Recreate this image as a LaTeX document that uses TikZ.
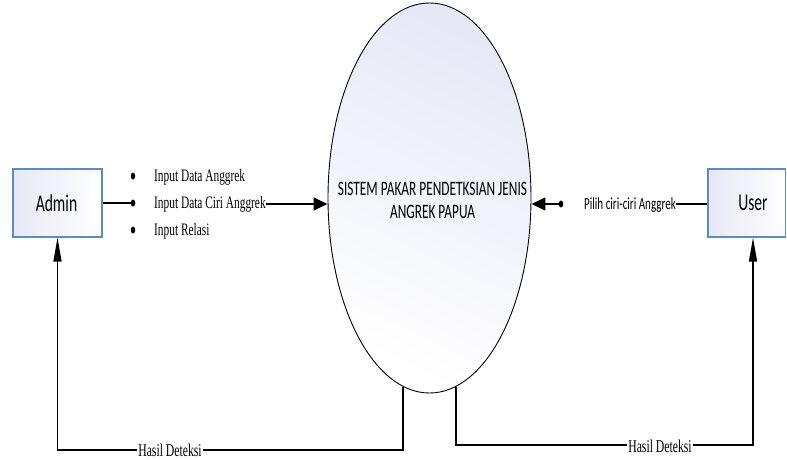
\documentclass[tikz,border=0pt]{standalone}
\usepackage{fontspec}
\setmainfont{Liberation Serif}[FakeStretch=0.65]
\newfontfamily\narrowsans{Carlito}[FakeStretch=0.65]
\usetikzlibrary{arrows.meta,shapes.geometric}
\definecolor{boxblue}{RGB}{91,141,196}
\definecolor{lav}{RGB}{230,232,246}
\tikzset{
  entity/.style={draw=boxblue, line width=1.2pt, left color=lav, right color=white,
    rectangle, inner sep=0pt, minimum height=68pt},
  process/.style={draw=black, line width=0.9pt, ellipse, inner sep=0pt,
    top color=lav, bottom color=white, shading angle=-25,
    minimum width=203pt, minimum height=390pt},
  processtext/.style={font=\narrowsans\fontsize{20.5}{23}\selectfont, align=center, inner sep=0pt},
  flow/.style={line width=1.4pt, draw=black},
  htip/.style={-{Triangle[length=14pt,width=13pt]}},
  vtip/.style={-{Triangle[length=24pt,width=8pt]}},
  flowlabel/.style={font=\fontsize{17.5}{20}\selectfont, inner sep=0pt},
  dot/.style={ellipse, fill=black, inner sep=0pt, minimum width=4.5pt, minimum height=7pt},
  boxtext/.style={font=\narrowsans\fontsize{24}{28}\selectfont, inner sep=0pt},
  outlabel/.style={font=\fontsize{18}{20}\selectfont, fill=white, inner sep=1pt},
}
\begin{document}
\begin{tikzpicture}[x=1pt, y=-1pt]
\useasboundingbox (0,0) rectangle (787,460);

% external entities
\node[entity, minimum width=89pt] (admin) at (57.5,203) {};
\node[boxtext] (admintxt) at (56.5,203) {Admin};
\node[entity, minimum width=77.5pt] (user) at (746.75,203) {};
\node[boxtext] (usertxt) at (753,203) {User};

% the process
\node[process] (sys) at (429.5,198) {};
\node[processtext] (systxt) at (432.5,200) {SISTEM PAKAR PENDETKSIAN JENIS\\[0pt]ANGREK PAPUA};

% admin inputs
\node[dot] (b1) at (133,176) {};
\node[dot] (b2) at (133,203) {};
\node[dot] (b3) at (133,230) {};
\node[flowlabel, anchor=west] (t1) at (154,177) {Input Data Anggrek};
\node[flowlabel, anchor=west] (t2) at (154,204) {Input Data Ciri Anggrek};
\node[flowlabel, anchor=west] (t3) at (154,231) {Input Relasi};
\draw[flow] (admin.east) -- (b2.center);
\draw[flow, htip] (t2.east) -- (t2.east -| sys.west);

% user input
\node[font=\narrowsans\fontsize{17}{20}\selectfont, inner sep=0pt, anchor=east] (pilih) at (676,205) {Pilih ciri-ciri Anggrek};
\node[dot] (ud) at (561,204) {};
\draw[flow] (user.west |- ud) -- (pilih.east |- ud);
\draw[flow, htip] (ud.center) -- (ud -| sys.east);

% detection results back to the entities
\coordinate (lb) at (57.5,450);
\coordinate (rb) at (753,445);
\draw[flow, vtip] (sys.262.6) |- (lb) -- (admin.south);
\draw[flow, vtip] (sys.278.7) |- (rb) -- (user.south -| rb);
\node[outlabel] (hl) at (170,450) {Hasil Deteksi};
\node[outlabel] (hr) at (660,446) {Hasil Deteksi};
\end{tikzpicture}
\end{document}
